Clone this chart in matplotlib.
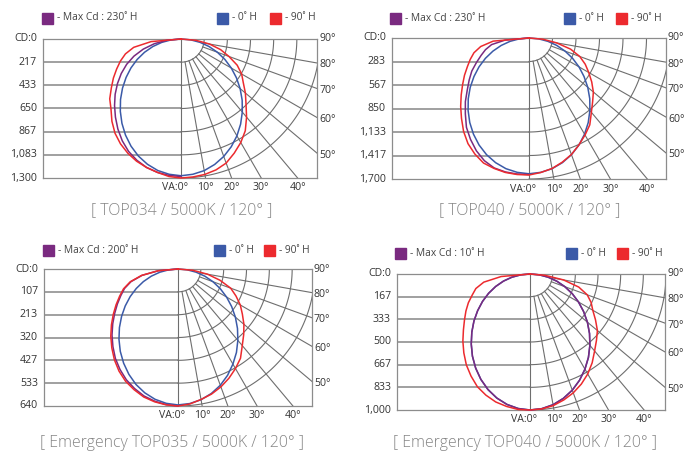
import numpy as np
import matplotlib.pyplot as plt
from matplotlib.patches import Rectangle

plt.rcParams['font.family'] = ['Open Sans', 'DejaVu Sans']

# vertical angles (deg from nadir), shared by every curve
angles = list(range(0, 91, 5))

# ---- TOP034 ----
p1_ticks = ["CD:0", "217", "433", "650", "867", "1,083", "1,300"]
p1_blue_right = [1279, 1270, 1250, 1215, 1169, 1112, 1046, 972, 892, 809, 722, 633, 543, 453, 362, 271, 181, 91, 0]
p1_blue_left = [1279, 1270, 1249, 1213, 1165, 1106, 1038, 963, 883, 800, 714, 627, 540, 452, 363, 273, 183, 92, 0]
p1_red_right = [1300, 1295, 1286, 1267, 1235, 1178, 1118, 1048, 954, 860, 786, 711, 655, 580, 477, 383, 271, 140, 0]
p1_red_left = [1300, 1291, 1267, 1244, 1216, 1178, 1132, 1076, 1005, 926, 870, 795, 730, 664, 603, 538, 449, 281, 0]
p1_purple_left = [1286, 1281, 1267, 1244, 1207, 1160, 1099, 1029, 954, 879, 804, 725, 645, 561, 468, 365, 253, 131, 0]

# ---- TOP040 ----
p2_ticks = ["CD:0", "283", "567", "850", "1,133", "1,417", "1,700"]
p2_blue_right = [1637, 1626, 1600, 1556, 1497, 1424, 1339, 1245, 1142, 1036, 925, 810, 696, 580, 463, 347, 232, 116, 0]
p2_blue_left = [1637, 1626, 1600, 1556, 1497, 1424, 1339, 1245, 1142, 1036, 925, 810, 696, 580, 463, 347, 232, 116, 0]
p2_red_right = [1640, 1628, 1598, 1550, 1495, 1423, 1351, 1278, 1170, 1085, 1013, 923, 832, 748, 651, 519, 338, 169, 0]
p2_red_left = [1652, 1652, 1646, 1628, 1604, 1544, 1471, 1375, 1266, 1165, 1067, 977, 898, 820, 754, 687, 591, 434, 0]
p2_purple_left = [1646, 1646, 1640, 1622, 1574, 1501, 1411, 1315, 1194, 1085, 971, 880, 796, 699, 615, 543, 458, 289, 0]

# ---- Emergency TOP035 ----
p3_ticks = ["CD:0", "107", "213", "320", "427", "533", "640"]
p3_blue_right = [635, 631, 620, 602, 578, 548, 513, 476, 435, 393, 350, 306, 262, 218, 174, 130, 86, 43, 0]
p3_blue_left = [635, 630, 618, 599, 574, 543, 508, 470, 429, 387, 344, 301, 258, 215, 172, 129, 86, 43, 0]
p3_red_right = [640, 633, 619, 605, 586, 563, 537, 509, 467, 434, 402, 367, 336, 299, 262, 203, 140, 70, 0]
p3_red_left = [640, 637, 630, 619, 600, 579, 551, 518, 481, 444, 406, 369, 334, 301, 271, 231, 173, 93, 0]
p3_purple_left = [640, 636, 627, 614, 594, 571, 542, 510, 473, 436, 398, 361, 327, 295, 266, 227, 170, 92, 0]

# ---- Emergency TOP040 ----
p4_ticks = ["CD:0", "167", "333", "500", "667", "833", "1,000"]
p4_blue_right = [1000, 994, 976, 947, 909, 862, 808, 749, 685, 619, 551, 481, 412, 343, 273, 204, 136, 68, 0]
p4_blue_left = [1000, 993, 974, 944, 904, 855, 799, 738, 672, 605, 538, 470, 403, 336, 269, 202, 135, 67, 0]
p4_red_right = [1000, 996, 983, 959, 930, 893, 849, 797, 739, 691, 647, 588, 533, 496, 448, 371, 250, 110, 0]
p4_red_left = [1000, 1000, 989, 974, 948, 915, 867, 816, 757, 698, 639, 588, 544, 500, 452, 412, 345, 213, 0]
p4_purple_right = [1000, 994, 976, 947, 909, 862, 808, 749, 685, 619, 551, 481, 412, 343, 273, 204, 136, 68, 0]
p4_purple_left = [1000, 993, 974, 944, 904, 855, 799, 738, 672, 605, 538, 470, 403, 336, 269, 202, 135, 67, 0]

titles = ["[ TOP034 / 5000K / 120° ]", "[ TOP040 / 5000K / 120° ]",
          "[ Emergency TOP035 / 5000K / 120° ]", "[ Emergency TOP040 / 5000K / 120° ]"]
max_cd = ["230˚", "230˚", "200˚", "10˚"]

BLUE = "#3b5aa8"
RED = "#ec2a2e"
PURPLE = "#7a2a80"
GRID = "#6e6e6e"
HLINE = "#a0a0a0"
TXT = "#333333"

W, H = 691, 454
fig = plt.figure(figsize=(W / 100, H / 100), dpi=100)

# overlay in pixel coords for legends and titles
ov = fig.add_axes([0, 0, 1, 1])
ov.set_xlim(0, W)
ov.set_ylim(H, 0)
ov.axis("off")

# box: left, right, top, bottom, origin x (pixels); legend x's and y; title x, y
layout = [
    dict(box=(43, 317, 39, 178, 181), leg=(42, 217, 270, 18), title=(182, 210)),
    dict(box=(392, 666, 38, 179, 529), leg=(390, 564, 616, 18.5), title=(530, 210)),
    dict(box=(44, 312, 269, 406, 178), leg=(43, 214, 264, 250.5), title=(172, 443)),
    dict(box=(397, 665, 274, 410, 530), leg=(395, 566, 617, 253.5), title=(525, 443)),
]

ticks = [p1_ticks, p2_ticks, p3_ticks, p4_ticks]
vmaxs = [1300, 1700, 640, 1000]
curves = [
    [(p1_blue_left, p1_blue_right, BLUE), (p1_purple_left, None, PURPLE), (p1_red_left, p1_red_right, RED)],
    [(p2_blue_left, p2_blue_right, BLUE), (p2_purple_left, None, PURPLE), (p2_red_left, p2_red_right, RED)],
    [(p3_blue_left, p3_blue_right, BLUE), (p3_purple_left, None, PURPLE), (p3_red_left, p3_red_right, RED)],
    [(p4_blue_left, p4_blue_right, BLUE), (p4_purple_left, p4_purple_right, PURPLE), (p4_red_left, p4_red_right, RED)],
]

th = np.radians(angles)

for i in range(4):
    left, right, top, bottom, ox = layout[i]["box"]
    vmax = vmaxs[i]
    h = bottom - top
    sc = vmax / h  # cd per pixel
    xmin, xmax = -(ox - left) * sc, (right - ox) * sc

    ax = fig.add_axes([left / W, 1 - bottom / H, (right - left) / W, h / H])
    ax.set_xlim(xmin, xmax)
    ax.set_ylim(-vmax, 0)
    ax.set_xticks([])
    ax.set_yticks([])
    for s in ax.spines.values():
        s.set_color("#8c8c8c")
        s.set_linewidth(0.9)

    step = vmax / 6
    for k in range(1, 6):
        ax.plot([xmin, 0], [-k * step, -k * step], color=HLINE, lw=1.4)
    ax.plot([0, 0], [-vmax, 0], color=GRID, lw=0.8)
    t = np.linspace(0, np.pi / 2, 120)
    for k in range(1, 7):
        ax.plot(k * step * np.sin(t), -k * step * np.cos(t), color=GRID, lw=0.8)
    for a in range(10, 90, 10):
        ar = np.radians(a)
        ax.plot([step * np.sin(ar), 3 * vmax * np.sin(ar)],
                [-step * np.cos(ar), -3 * vmax * np.cos(ar)], color=GRID, lw=0.8)

    for lvals, rvals, col in curves[i]:
        rl = np.array(lvals)
        xs = list(-rl * np.sin(th))[::-1]
        ys = list(-rl * np.cos(th))[::-1]
        if rvals is not None:
            rr = np.array(rvals)
            xs += list(rr * np.sin(th))[1:]
            ys += list(-rr * np.cos(th))[1:]
        ax.plot(xs, ys, color=col, lw=1.1, clip_on=False, zorder=5)

    # left cd labels
    for k, lab in enumerate(ticks[i]):
        ax.text(xmin - 6 * sc, -k * step, lab, ha="right", va="center",
                fontsize=7.6, color=TXT, clip_on=False)
    # right angle labels
    for a in [90, 80, 70, 60, 50]:
        y = 0 if a == 90 else -xmax / np.tan(np.radians(a)) - 2 * sc
        ax.text(xmax + 2 * sc, y, f"{a}°", ha="left", va="center",
                fontsize=7.6, color=TXT, clip_on=False)
    # bottom angle labels
    ax.text(7 * sc, -vmax - 10 * sc, "VA:0°", ha="right", va="center",
            fontsize=7.6, color=TXT, clip_on=False)
    for a in [10, 20, 30, 40]:
        ax.text(vmax * np.tan(np.radians(a)), -vmax - 10 * sc, f"{a}°", ha="center",
                va="center", fontsize=7.6, color=TXT, clip_on=False)

    # legend
    px, bx, rx, ly = layout[i]["leg"]
    for x0, col, lab in [(px, PURPLE, f"- Max Cd : {max_cd[i]} H"),
                         (bx, BLUE, "- 0˚ H"), (rx, RED, "- 90˚ H")]:
        ov.add_patch(Rectangle((x0, ly - 5.5), 11, 11, color=col))
        ov.text(x0 + 15, ly, lab, ha="left", va="center", fontsize=7.4, color="#444444")

    tx, ty = layout[i]["title"]
    ov.text(tx, ty, titles[i], ha="center", va="center", fontsize=11.4,
            color="#858585", fontweight="light")

fig.savefig("out.png", dpi=100)
